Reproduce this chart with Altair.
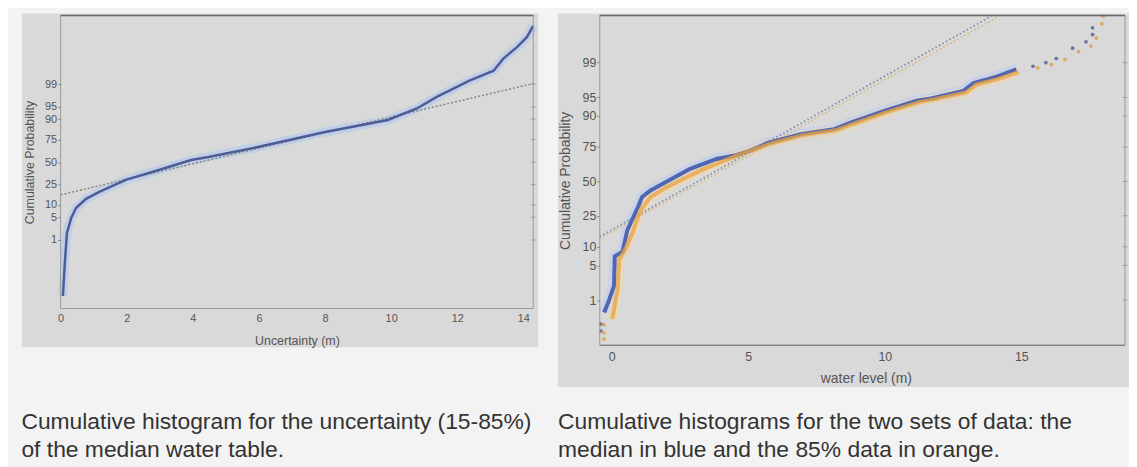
import altair as alt
import pandas as pd
from statistics import NormalDist

_nd = NormalDist()


def probit(p):
    return _nd.inv_cdf(p / 100.0)


W, H = 1129, 459
FONT = "Liberation Sans"

# ---------------- data ----------------
prob_ticks = [1, 5, 10, 25, 50, 75, 90, 95, 99]
prob_labels = ["1", "5", "10", "25", "50", "75", "90", "95", "99"]

# left panel: uncertainty (m) vs cumulative probability (%)
unc_x = [0.07, 0.12, 0.19, 0.32, 0.47, 0.77, 1.17, 1.97, 2.97, 3.95, 4.47, 6.0,
         8.0, 9.0, 9.9, 10.78, 11.38, 12.37, 13.1, 13.4, 13.8, 14.1, 14.3]
unc_p = [0.0032, 0.09, 1.7, 4.8, 8.6, 13.6, 18.7, 29.7, 40.6, 52.4, 56.0, 67.5,
         81.5, 86.0, 89.5, 94.5, 97.4, 99.25, 99.68, 99.9, 99.969, 99.990, 99.9976]
unc_ref_x = [0.0, 14.3]
unc_ref_p = [16.4, 99.04]

# right panel: water level (m) vs cumulative probability (%)
med_x = [-0.28, -0.1, 0.08, 0.11, 0.39, 0.57, 0.96, 1.11, 1.42, 2.02, 2.87, 3.84,
         4.5, 5.05, 5.72, 6.93, 8.15, 8.75, 9.96, 11.17, 11.7, 12.88, 13.25, 14.1, 14.82]
med_p = [0.51, 1.0, 2.0, 7.1, 8.4, 17.0, 30.8, 38.0, 43.0, 50.0, 59.8, 67.0,
         69.4, 72.6, 77.5, 82.3, 84.7, 87.5, 91.6, 94.3, 94.8, 96.2, 97.3, 98.0, 98.6]
med_dot_x = [-0.4, -0.4, 15.43, 15.9, 16.28, 16.88, 17.37, 17.61, 17.61]
med_dot_p = [0.26, 0.17, 98.8, 99.0, 99.2, 99.55, 99.69, 99.8, 99.87]

p85_x = [0.02, 0.21, 0.27, 0.51, 0.75, 1.05, 1.42, 2.02, 3.24, 4.57, 5.8, 7.0,
         8.2, 8.85, 10.05, 11.25, 11.8, 13.0, 13.35, 14.2, 14.9]
p85_p = [0.35, 1.7, 6.2, 9.5, 15.4, 28.6, 38.0, 45.6, 58.4, 69.3, 77.0, 81.8,
         84.2, 87.0, 91.2, 94.0, 94.6, 96.0, 97.1, 97.8, 98.4]
p85_dot_x = [-0.29, -0.29, -0.29, 15.6, 16.1, 16.6, 17.1, 17.55, 17.75, 17.95, 18.0]
p85_dot_p = [0.25, 0.15, 0.1, 98.7, 98.9, 99.15, 99.45, 99.6, 99.75, 99.9, 99.94]

med_ref_x = [-0.44, 13.9]
med_ref_p = [14.0, 99.94]
p85_ref_x = [-0.44, 14.2]
p85_ref_p = [13.2, 99.94]

caption_left = ["Cumulative histogram for the uncertainty (15-85%)",
                "of the median water table."]
caption_right = ["Cumulative histograms for the two sets of data: the",
                 "median in blue and the 85% data in orange."]


# ---------------- tables ----------------
def curve(xs, ps):
    return pd.DataFrame({"i": list(range(len(xs))), "x": xs,
                         "z": [probit(p) for p in ps]})


tick_df = pd.DataFrame({"p": prob_ticks, "z": [probit(p) for p in prob_ticks]})
one = pd.DataFrame({"a": [0]})

z_ticks = [probit(p) for p in prob_ticks]
label_expr = ""
for zt, lab in zip(z_ticks, prob_labels):
    label_expr += f"abs(datum.value - ({zt:.6f})) < 0.001 ? '{lab}' : "
label_expr += "''"

# ---------------- left panel ----------------
LX0, LX1, LY0, LY1 = 53, 529, 6, 301
xL = alt.X("x:Q",
           scale=alt.Scale(domain=[0, 14.3], range=[LX0, LX1], nice=False, zero=False),
           axis=alt.Axis(orient="bottom", offset=LY1 - H, values=list(range(0, 15, 2)),
                         format="d", domain=False, ticks=False, grid=False, zindex=2,
                         labelPadding=4, labelFontSize=11, labelColor="#555",
                         labelFont=FONT, labelFlush=False,
                         title="Uncertainty (m)", titleFont=FONT, titleFontSize=12.5,
                         titleFontWeight="normal", titleColor="#555",
                         titleX=(LX0 + LX1) / 2, titleY=32, titleBaseline="middle",
                         titleAlign="center"))
yL = alt.Y("z:Q",
           scale=alt.Scale(domain=[-4.37, 4.37], range=[LY1, LY0], nice=False, zero=False),
           axis=alt.Axis(orient="left", offset=-LX0, values=z_ticks, labelExpr=label_expr,
                         domain=False, grid=False, tickSize=3, tickColor="#888", zindex=2,
                         labelPadding=1, labelFontSize=11, labelColor="#555",
                         labelFont=FONT, labelOverlap=False, labelFlush=False,
                         title="Cumulative Probability", titleFont=FONT,
                         titleFontSize=12.5, titleFontWeight="normal", titleColor="#555",
                         titleX=-31, titleY=(LY0 + LY1) / 2, titleAngle=270,
                         titleAlign="center", titleBaseline="middle"))

left_bg = alt.Chart(one).mark_rect(color="#d9d9d9").encode(
    x=alt.value(14), x2=alt.value(534), y=alt.value(4), y2=alt.value(340))
left_frame = alt.Chart(one).mark_rect(fillOpacity=0, stroke="#9a9a9a", strokeWidth=1).encode(
    x=alt.value(LX0), x2=alt.value(LX1), y=alt.value(LY0), y2=alt.value(LY1))
left_top = alt.Chart(one).mark_rule(color="#666", strokeWidth=1.5).encode(
    x=alt.value(LX0), x2=alt.value(LX1), y=alt.value(LY0))
left_rticks = alt.Chart(tick_df).mark_tick(orient="horizontal", size=5, thickness=1,
                                           color="#8a8a8a").encode(x=alt.value(LX1), y=yL)

unc_df = curve(unc_x, unc_p)
left_halo = alt.Chart(unc_df).mark_line(color="#b7cbe9", strokeWidth=9, opacity=0.75).encode(
    x=xL, y=yL, order="i:Q")
left_line = alt.Chart(unc_df).mark_line(color="#4d5b96", strokeWidth=2.5).encode(
    x=xL, y=yL, order="i:Q")
left_ref = alt.Chart(curve(unc_ref_x, unc_ref_p)).mark_line(
    color="#7f8a7e", strokeWidth=1.5, strokeDash=[2, 2]).encode(x=xL, y=yL, order="i:Q")

left_panel = alt.layer(left_bg, left_halo, left_ref, left_line, left_frame, left_top,
                       left_rticks)

# ---------------- right panel ----------------
RX0, RX1, RY0, RY1 = 596, 1125, 6, 338
xR = alt.X("x:Q",
           scale=alt.Scale(domain=[-0.44, 18.8], range=[RX0, RX1], nice=False, zero=False),
           axis=alt.Axis(orient="bottom", offset=RY1 - H, values=[0, 5, 10, 15],
                         format="d", domain=False, ticks=False, grid=False, zindex=2,
                         labelPadding=5, labelFontSize=12.5, labelColor="#555",
                         labelFont=FONT, labelFlush=False,
                         title="water level (m)", titleFont=FONT, titleFontSize=14,
                         titleFontWeight="normal", titleColor="#555",
                         titleX=864, titleY=34, titleBaseline="middle",
                         titleAlign="center"))
yR = alt.Y("z:Q",
           scale=alt.Scale(domain=[-3.21, 3.25], range=[RY1, RY0], nice=False, zero=False),
           axis=alt.Axis(orient="left", offset=-RX0, values=z_ticks, labelExpr=label_expr,
                         domain=False, grid=False, tickSize=3, tickColor="#888", zindex=2,
                         labelPadding=1, labelFontSize=12.5, labelColor="#555",
                         labelFont=FONT, labelOverlap=False, labelFlush=False,
                         title="Cumulative Probability", titleFont=FONT,
                         titleFontSize=14, titleFontWeight="normal", titleColor="#555",
                         titleX=-34, titleY=(RY0 + RY1) / 2, titleAngle=270,
                         titleAlign="center", titleBaseline="middle"))

right_bg = alt.Chart(one).mark_rect(color="#d9d9d9").encode(
    x=alt.value(554), x2=alt.value(W), y=alt.value(4), y2=alt.value(380))
right_frame = alt.Chart(one).mark_rect(fillOpacity=0, stroke="#9a9a9a", strokeWidth=1).encode(
    x=alt.value(RX0), x2=alt.value(RX1), y=alt.value(RY0), y2=alt.value(RY1))
right_top = alt.Chart(one).mark_rule(color="#666", strokeWidth=1.5).encode(
    x=alt.value(RX0), x2=alt.value(RX1), y=alt.value(RY0))
right_bottom = alt.Chart(one).mark_rule(color="#777", strokeWidth=1.2).encode(
    x=alt.value(RX0), x2=alt.value(RX1), y=alt.value(RY1))
right_rticks = alt.Chart(tick_df).mark_tick(orient="horizontal", size=5, thickness=1,
                                            color="#8a8a8a").encode(x=alt.value(RX1), y=yR)

med_df = curve(med_x, med_p)
p85_df = curve(p85_x, p85_p)
med_halo = alt.Chart(med_df).mark_line(color="#bccff0", strokeWidth=11, opacity=0.7).encode(
    x=xR, y=yR, order="i:Q")
p85_halo = alt.Chart(p85_df).mark_line(color="#f2d7ad", strokeWidth=10, opacity=0.6).encode(
    x=xR, y=yR, order="i:Q")
med_ref = alt.Chart(curve(med_ref_x, med_ref_p)).mark_line(
    color="#7f8ca6", strokeWidth=1.8, strokeDash=[1.5, 2.5]).encode(x=xR, y=yR, order="i:Q")
p85_ref = alt.Chart(curve(p85_ref_x, p85_ref_p)).mark_line(
    color="#d9b372", strokeWidth=1.6, strokeDash=[1.5, 2.5]).encode(x=xR, y=yR, order="i:Q")
med_line = alt.Chart(med_df).mark_line(color="#5165b3", strokeWidth=4).encode(
    x=xR, y=yR, order="i:Q")
p85_line = alt.Chart(p85_df).mark_line(color="#e9a43e", strokeWidth=4, opacity=0.75).encode(
    x=xR, y=yR, order="i:Q")
med_dots = alt.Chart(curve(med_dot_x, med_dot_p)).mark_circle(
    color="#5d6a98", size=14, opacity=0.9).encode(x=xR, y=yR)
p85_dots = alt.Chart(curve(p85_dot_x, p85_dot_p)).mark_circle(
    color="#dca04a", size=14, opacity=0.85).encode(x=xR, y=yR)

right_panel = alt.layer(right_bg, med_halo, p85_halo, med_ref, p85_ref, med_line, p85_line,
                        med_dots, p85_dots, right_frame, right_top, right_bottom,
                        right_rticks)

# ---------------- captions ----------------
cap_left = alt.Chart(one).mark_text(align="left", baseline="alphabetic", fontSize=23,
                                    font=FONT, color="#333", lineHeight=29).encode(
    x=alt.value(13.5), y=alt.value(422), text=alt.value(caption_left))
cap_right = alt.Chart(one).mark_text(align="left", baseline="alphabetic", fontSize=23,
                                     font=FONT, color="#333", lineHeight=29).encode(
    x=alt.value(554), y=alt.value(422), text=alt.value(caption_right))

chart = alt.layer(left_panel, right_panel, cap_left, cap_right).resolve_scale(
    x="independent", y="independent"
).properties(
    width=W, height=H, padding=0, background="#f3f3f3",
    autosize=alt.AutoSizeParams(type="none"),
).configure_view(stroke="transparent")

chart.save("out.html", embed_options={"renderer": "svg", "actions": False})
